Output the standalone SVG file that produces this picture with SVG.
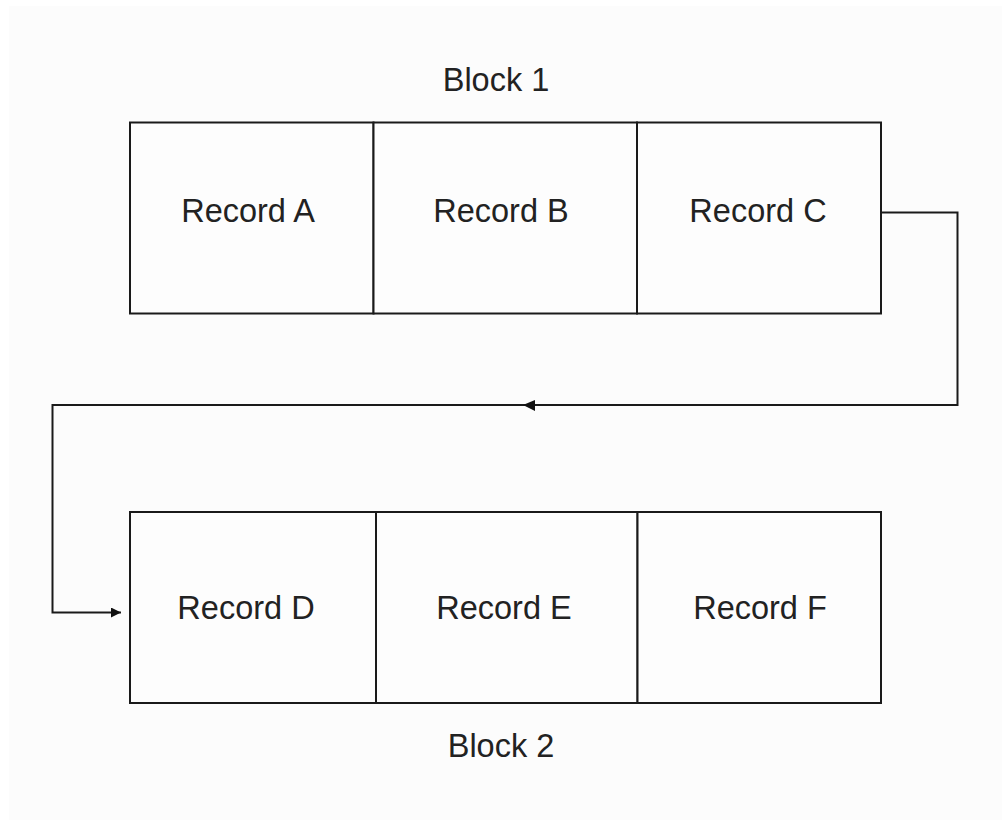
<svg xmlns="http://www.w3.org/2000/svg" width="1002" height="821" viewBox="0 0 1002 821">
<defs>
<style>
.cell{fill:#fdfdfd;stroke:#1a1a1a;stroke-width:2}
.lbl{font-family:"Liberation Sans",Arial,sans-serif;font-size:32.5px;fill:#222;text-anchor:middle}
.conn{fill:none;stroke:#1a1a1a;stroke-width:2}
</style>
<marker id="arr" viewBox="0 0 10 10" refX="10" refY="5" markerWidth="10" markerHeight="10" markerUnits="userSpaceOnUse" orient="auto">
<path d="M0,0 L10,5 L0,10 Z" fill="#111"/>
</marker>
</defs>
<rect x="0" y="0" width="1002" height="821" fill="#ffffff"/>
<rect x="9" y="6" width="993" height="814" fill="#fcfcfc"/>
<text class="lbl" x="496" y="91">Block 1</text>
<text class="lbl" x="501" y="757">Block 2</text>
<g id="recA"><rect class="cell" x="130" y="122.5" width="243.5" height="191"/><text class="lbl" x="248" y="222">Record A</text></g>
<g id="recB"><rect class="cell" x="373.5" y="122.5" width="263.5" height="191"/><text class="lbl" x="501" y="222">Record B</text></g>
<g id="recC"><rect class="cell" x="637" y="122.5" width="244" height="191"/><text class="lbl" x="758" y="222">Record C</text></g>
<g id="recD"><rect class="cell" x="130" y="512" width="246" height="191"/><text class="lbl" x="246" y="619">Record D</text></g>
<g id="recE"><rect class="cell" x="376" y="512" width="261.5" height="191"/><text class="lbl" x="504" y="619">Record E</text></g>
<g id="recF"><rect class="cell" x="637.5" y="512" width="243.5" height="191"/><text class="lbl" x="760" y="619">Record F</text></g>
<g id="connectors">
<path class="conn" d="M881,212.5 H957.5 V405 H52.5 V612.5 H121" marker-end="url(#arr)"/>
<path d="M535,400 L523,405 L535,411 Z" fill="#111"/>
</g>
</svg>
